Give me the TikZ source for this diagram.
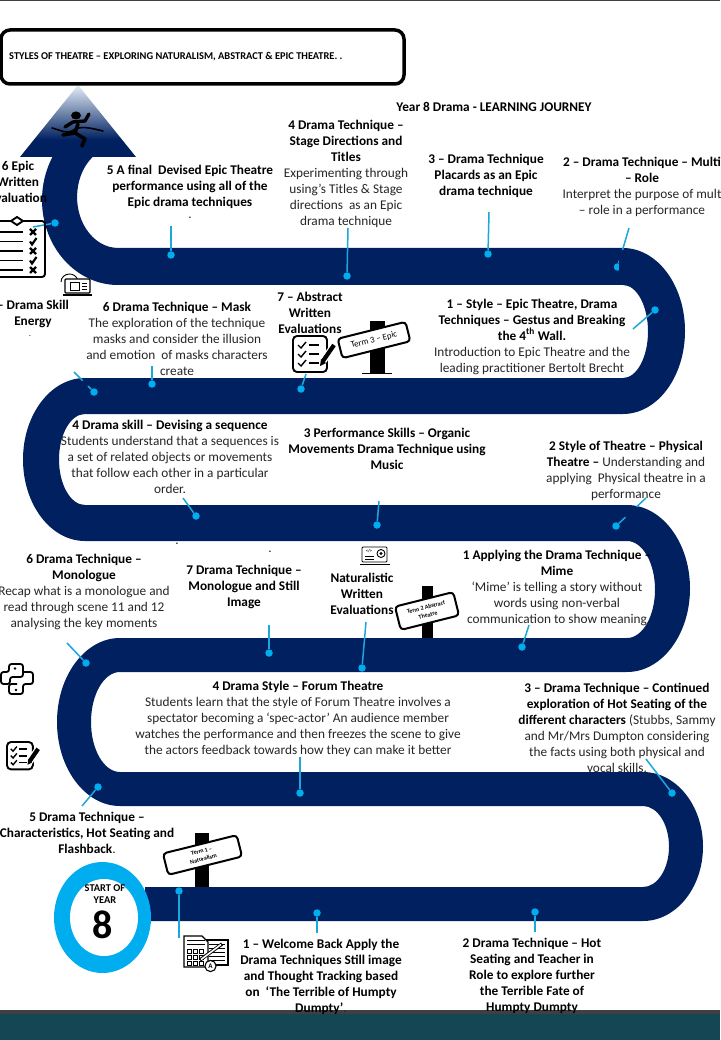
\documentclass[tikz,border=0pt]{standalone}
\usepackage{fontspec}
\setmainfont{Carlito}
\definecolor{navy}{HTML}{002060}
\definecolor{sky}{HTML}{00AEEF}
\definecolor{linkc}{HTML}{1AA7DC}
\definecolor{fade}{HTML}{E4EEF8}
\definecolor{teal}{HTML}{144753}
\definecolor{barc}{HTML}{404040}
\definecolor{ink}{HTML}{262626}
\pgfdeclareverticalshading{arrowfade}{100bp}{color(0bp)=(navy);color(37bp)=(navy);color(75bp)=(fade);color(100bp)=(fade)}
\newcommand{\tb}[1]{\textbf{\color{black}#1}}
\newcommand{\conn}[5]{\coordinate (f#1) at (#2,#3); \node[dot] (d#1) at (#4,#5) {}; \draw[link] (f#1) -- (d#1);}
\tikzset{
  lbl/.style={font=\fontsize{13.3}{16}\selectfont,align=center,inner sep=0pt,text=ink},
  dot/.style={circle,fill=sky,inner sep=0pt,minimum size=7.5pt},
  link/.style={draw=linkc,line width=1.5pt},
  signbox/.style={draw=black,line width=2pt,fill=white,rounded corners=3.5pt,align=center,inner sep=0pt,text=black},
  post/.style={fill=black,draw=none},
  checkicon/.pic={
    \draw[black,line width=1.9pt,rounded corners=4pt] (0,0) rectangle (34,36);
    \draw[white,line width=7pt] (28,28) -- (42,8);
    \foreach \yy in {0,9,18}{
      \draw[black,line width=1.4pt] (5,9+\yy) -- (8,12+\yy) -- (13,6+\yy);
      \draw[black,line width=1.9pt] (16,9+\yy) -- (26,9+\yy);
    }
    \draw[black,line width=4.2pt] (30,25) -- (41,9);
    \fill[black] (27,30) -- (28,23) -- (33,27) -- cycle;
  },
  xmark/.pic={\draw[black,line width=2.2pt] (-3,-3) -- (3,3) (-3,3) -- (3,-3);},
  vmark/.pic={\draw[black,line width=2.2pt] (-3,0) -- (-1,3) -- (3.5,-3.5);}
}
\begin{document}
\begin{tikzpicture}[x=1pt,y=-1pt]
\useasboundingbox (0,0) rectangle (720,1040);
\clip (0,0) rectangle (720,1040);
\fill[white] (0,0) rectangle (720,1040);
\fill[barc] (0,0) rectangle (720,1);

% bottom bars
\fill[barc] (0,1010) rectangle (720,1014);
\fill[teal] (0,1014) rectangle (720,1040);

% road
\fill[navy] (145,887) -- (643,887)
  arc[start angle=-90,end angle=90,x radius=26pt,y radius=40.5pt] -- (120,806)
  arc[start angle=-90,end angle=-270,x radius=63pt,y radius=84pt] -- (627,638)
  arc[start angle=-90,end angle=90,x radius=28pt,y radius=48.5pt] -- (85,541)
  arc[start angle=-90,end angle=-270,x radius=62pt,y radius=81.5pt] -- (623,378)
  arc[start angle=-90,end angle=90,x radius=25pt,y radius=46.5pt] -- (118,285)
  arc[start angle=-90,end angle=-210.4,x radius=76pt,y radius=85pt] -- (92.6,157)
  arc[start angle=128.4,end angle=270,x radius=41pt,y radius=51pt] -- (623,248)
  arc[start angle=90,end angle=-90,x radius=62pt,y radius=83pt] -- (85,414)
  arc[start angle=90,end angle=270,x radius=26pt,y radius=45.5pt] -- (627,505)
  arc[start angle=90,end angle=-90,x radius=63pt,y radius=83.5pt] -- (120,672)
  arc[start angle=90,end angle=270,x radius=29pt,y radius=50pt] -- (643,772)
  arc[start angle=90,end angle=-90,x radius=60pt,y radius=74.5pt] -- (145,921) -- cycle;

% arrow head
\path[shading=arrowfade] (78,85) -- (20,157) -- (136,157) -- cycle;
% runner
\fill[black] (76,115.5) ellipse[x radius=5pt,y radius=4pt];
\draw[black,line width=3.4pt,line cap=round,line join=round] (89,114) -- (85,121) -- (73,122) -- (65,127);
\draw[black,line width=3.6pt,line cap=round,line join=round] (78,124) -- (75,133) -- (63,135);
\draw[black,line width=3.6pt,line cap=round,line join=round] (75,133) -- (85,139) -- (82,146);
\draw[black,line width=1.6pt,line cap=round] (52,128) .. controls (60,130) and (66,134) .. (72,131) .. controls (80,125) and (90,128) .. (103,131);

% start circle
\fill[sky] (102.5,917.5) ellipse[x radius=48.5pt,y radius=55.5pt];
\fill[white] (104,917.5) ellipse[x radius=34pt,y radius=38.5pt];
\node[font=\fontsize{10.4}{12}\selectfont\bfseries,align=center,inner sep=0pt] (startlbl) at (105,894) {START OF\\YEAR};
\node[font=\fontsize{40}{40}\selectfont\bfseries,inner sep=0pt] (eight) at (103,925) {8};

% connectors
\conn{a}{33}{227}{55}{223}
\conn{b}{171}{226}{171}{255}
\conn{c}{348}{228}{347}{276}
\conn{d}{489}{212}{488}{254}
\conn{e}{629}{228}{617.5}{267}
\fill[navy] (619,250) -- (634,250) -- (634,284) -- (619,284) -- cycle;
\conn{f}{633}{329}{655}{310}
\conn{g}{152}{366}{152}{384}
\conn{h}{74}{372}{94}{392}
\draw[navy,line width=2.5pt] (83,380.5) -- (88,386);
\conn{i}{306}{374}{301}{389}
\conn{j}{183}{498}{196}{516}
\conn{k}{379}{501}{377}{525}
\conn{l}{646}{498}{616}{526}
\draw[navy,line width=2.5pt] (636.5,507) -- (625.5,517);
\conn{m}{529}{625}{522}{647}
\conn{n}{366}{622}{362}{668}
\conn{o}{269}{625}{269}{653}
\conn{p}{67}{643}{86}{663}
\conn{q}{300}{757}{300}{793}
\conn{r}{646}{759}{672}{793}
\conn{s}{82}{806}{98}{787}
\conn{t}{179}{938}{179}{891}
\conn{u}{317}{933}{317}{913}
\conn{v}{535}{932}{535}{912}

% title
\draw[black,line width=3.5pt,rounded corners=9pt,fill=white] (1,30) rectangle (404,84);
\node[anchor=west,font=\fontsize{10.4}{12}\selectfont\bfseries,inner sep=0pt,text=black] (title) at (9,57) {STYLES OF THEATRE – EXPLORING NATURALISM, ABSTRACT \& EPIC THEATRE. .};
\node[lbl] (journey) at (494,107) {\tb{Year 8 Drama - LEARNING JOURNEY}};

% labels
\node[lbl] (t4a) at (346,173.5) {\tb{4 Drama Technique –}\\\tb{Stage Directions and}\\\tb{Titles}\\Experimenting through\\using’s Titles \& Stage\\directions\ \ as an Epic\\drama technique};
\node[lbl] (t3a) at (486,175.5) {\tb{3 – Drama Technique}\\\tb{Placards as an Epic}\\\tb{drama technique}};
\node[lbl] (t2a) at (642,186.5) {\tb{2 – Drama Technique – Multi}\\\tb{– Role}\\Interpret the purpose of mult\\– role in a performance};
\node[lbl] (t5a) at (190,186.5) {\tb{5 A final\ \ Devised Epic Theatre}\\\tb{performance using all of the}\\\tb{Epic drama techniques}};
\node[lbl] (dot1) at (190,218) {.};
\node[lbl] (t6a) at (18,181.5) {\tb{6 Epic}\\\tb{Written}\\\tb{Evaluation}};
\node[lbl] (t7s) at (33,313.5) {\tb{– Drama Skill}\\\tb{Energy}};
\node[lbl,font=\fontsize{9}{10}\selectfont] (dot2) at (30,336) {.};
\node[lbl] (t6m) at (177,338.5) {\tb{6 Drama Technique – Mask}\\The exploration of the technique\\masks and consider the illusion\\and emotion\ \ of masks characters\\create};
\node[lbl] (t7a) at (310,312.5) {\tb{7 – Abstract}\\\tb{Written}\\\tb{Evaluations}};
\node[lbl] (t1s) at (532,336.5) {\tb{1 – Style – Epic Theatre, Drama}\\\tb{Techniques – Gestus and Breaking}\\\tb{the 4\textsuperscript{th} Wall.}\\Introduction to Epic Theatre and the\\leading practitioner Bertolt Brecht};
\node[lbl] (t4s) at (170,456.5) {\tb{4 Drama skill – Devising a sequence}\\Students understand that a sequences is\\a set of related objects or movements\\that follow each other in a particular\\order.};
\node[lbl] (t3p) at (387,448.5) {\tb{3 Performance Skills – Organic}\\\tb{Movements Drama Technique using}\\\tb{Music}};
\node[lbl] (t2s) at (626,470.5) {\tb{2 Style of Theatre – Physical}\\\tb{Theatre –} Understanding and\\applying\ \ Physical theatre in a\\performance};
\node[lbl] (dot3) at (177,544) {.};
\node[lbl] (dot4) at (270,552) {.};
\node[lbl] (t6n) at (84,591.5) {\tb{6 Drama Technique –}\\\tb{Monologue}\\Recap what is a monologue and\\read through scene 11 and 12\\analysing the key moments};
\node[lbl] (t7d) at (244,586.5) {\tb{7 Drama Technique –}\\\tb{Monologue and Still}\\\tb{Image}};
\node[lbl] (tnat) at (362,593.5) {\tb{Naturalistic}\\\tb{Written}\\\tb{Evaluations}};
\node[lbl] (t1a) at (557,587.5) {\tb{1 Applying the Drama Technique –}\\\tb{Mime}\\‘Mime’ is telling a story without\\words using non-verbal\\communication to show meaning};
\node[lbl] (t4f) at (298,718.5) {\tb{4 Drama Style – Forum Theatre}\\Students learn that the style of Forum Theatre involves a\\spectator becoming a ‘spec-actor’ An audience member\\watches the performance and then freezes the scene to give\\the actors feedback towards how they can make it better};
\node[lbl] (t3h) at (617,727.5) {\tb{3 – Drama Technique – Continued}\\\tb{exploration of Hot Seating of the}\\\tb{different characters} (Stubbs, Sammy\\and Mr/Mrs Dumpton considering\\the facts using both physical and\\vocal skills.};
\node[lbl] (t5d) at (87,832.5) {\tb{5 Drama Technique –}\\\tb{Characteristics, Hot Seating and}\\\tb{Flashback}.};
\node[lbl] (t1w) at (321,976.5) {\tb{1 – Welcome Back Apply the}\\\tb{Drama Techniques Still image}\\\tb{and Thought Tracking based}\\\tb{on\ \ ‘The Terrible of Humpty}\\\tb{Dumpty’}.};
\node[lbl] (t2h) at (532,975.5) {\tb{2 Drama Technique – Hot}\\\tb{Seating and Teacher in}\\\tb{Role to explore further}\\\tb{the Terrible Fate of}\\\tb{Humpty Dumpty}};

% signposts
\fill[post] (370,321) rectangle (385,373);
\draw[black,line width=1.2pt] (362,373.5) -- (392,373.5);
\node[signbox,rotate=14,minimum width=70pt,minimum height=20pt,font=\fontsize{8.8}{9}\selectfont] (s3) at (374,340) {Term 3 – Epic};
\fill[post] (422,586) rectangle (433,638);
\node[signbox,rotate=14,minimum width=60pt,minimum height=24pt,font=\fontsize{6}{8}\selectfont\bfseries] (s2) at (427,611) {Term 2 Abstract\\Theatre};
\fill[post] (195,833) rectangle (209,887);
\node[signbox,rotate=14,minimum width=76pt,minimum height=22pt,font=\fontsize{6}{8}\selectfont\bfseries] (s1) at (202.5,855) {Term 1 –\\Naturalism};

% clipboard icon
\draw[black,line width=1.9pt,rounded corners=3pt] (-6,221) -- (45,221) -- (45,277) -- (-6,277);
\draw[black,line width=1.9pt,fill=white] (11,221) -- (17,217) -- (23,221) -- (17,225) -- cycle;
\foreach \yy in {232,241.5,251,260.5,270}{\draw[black,line width=1.4pt] (0,\yy) -- (23,\yy);}
\pic at (33,232) {xmark};
\pic at (33,241.5) {vmark};
\pic at (33,251) {xmark};
\pic at (33,260.5) {vmark};
\pic at (33,270) {xmark};

% laptop icon (drama skill)
\draw[black,line width=.9pt] (61,282) arc[start angle=180,end angle=20,x radius=8.5pt,y radius=8pt];
\draw[black,line width=1.2pt,fill=white,rounded corners=1pt] (65,279) rectangle (90,293);
\draw[black,line width=1.6pt] (63,295) -- (92,295);
\draw[black,line width=.9pt] (70,282) rectangle (79,290);
\draw[black,line width=.8pt] (82,283) -- (87,283) (82,286) -- (87,286) (82,289) -- (87,289);

% evaluation icons
\pic at (293,336) {checkicon};
\pic[scale=.76] at (7,742) {checkicon};

% naturalistic laptop icon
\draw[black,line width=.9pt,rounded corners=1pt] (362,547) rectangle (387,562);
\draw[black,line width=1.5pt] (360,564.5) -- (390,564.5);
\node[font=\fontsize{4.5}{5}\selectfont\bfseries,inner sep=0pt] (codetag) at (369,551) {</>};
\draw[black,line width=.6pt] (365,556) -- (374,556) (365,559) -- (374,559);
\draw[black,line width=.9pt] (381,553.5) circle[radius=4pt];
\fill[black] (381,553.5) circle[radius=1.6pt];

% python-like icon
\draw[black,line width=1.8pt,rounded corners=2.5pt] (9,672) -- (9,664) -- (23,664) -- (23,677) -- (10,677) -- (10,684) -- (1,684) -- (1,672) -- cycle;
\draw[black,line width=1.8pt,rounded corners=2.5pt] (23,672) -- (33,672) -- (33,684) -- (23,684) -- (23,694) -- (9,694) -- (9,684) -- (17,684);
\fill[black] (15,668.5) circle[radius=1.3pt] (16,690) circle[radius=1.3pt];

% quiz icon
\draw[black,line width=1.2pt,fill=white] (205,940) rectangle (228,965);
\foreach \yy in {944,948,952,956,960}{\draw[black,line width=.8pt] (209,\yy) -- (225,\yy);}
\draw[black,line width=1.2pt,fill=white] (184,936) -- (202,936) -- (208,942) -- (208,967) -- (184,967) -- cycle;
\foreach \yy in {940,944}{\draw[black,line width=.7pt] (187,\yy) -- (205,\yy);}
\foreach \xx in {188,194,200}{
  \draw[black,line width=.8pt] (\xx-1,949) rectangle (\xx+3,953);
  \draw[black,line width=.8pt] (\xx-1,955.5) rectangle (\xx+3,959);
  \draw[black,line width=.8pt] (\xx-1,961.5) rectangle (\xx+3,965);
}
\draw[black,line width=3.4pt] (200,960) -- (222,944);
\draw[white,line width=1.6pt] (201,959.5) -- (221,944.5);
\draw[black,line width=1.1pt,fill=white] (210.5,966) circle[radius=5.6pt];
\node[font=\fontsize{7}{8}\selectfont\bfseries,inner sep=0pt] (quizA) at (210.5,966) {A};
\end{tikzpicture}
\end{document}
